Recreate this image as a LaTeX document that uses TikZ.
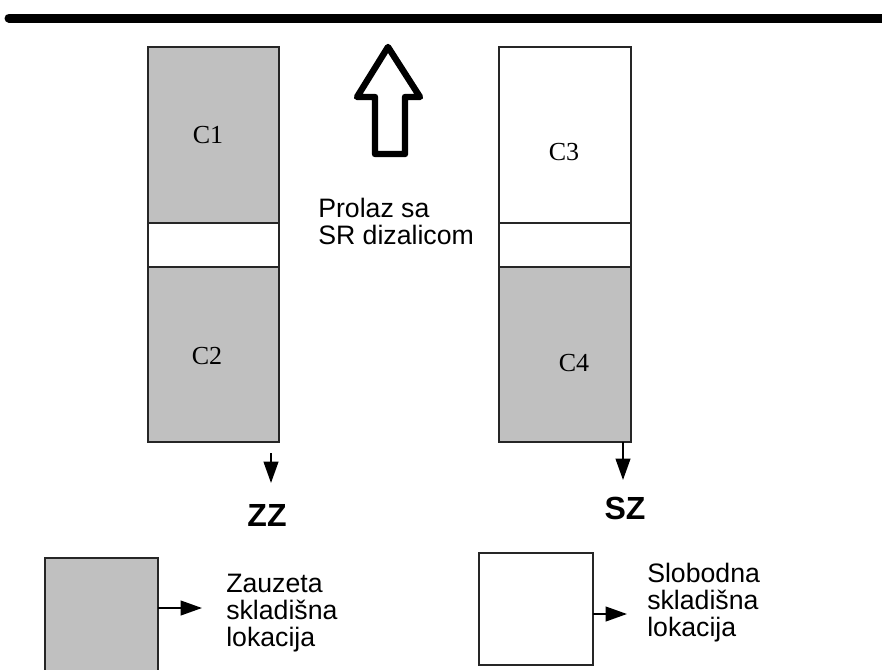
\documentclass[tikz,border=0pt]{standalone}
\usepackage{fontspec}
\setmainfont{Liberation Serif}
\setsansfont{Liberation Sans}
\usepackage{tikz}
\usetikzlibrary{arrows.meta,positioning}
\definecolor{cellgray}{RGB}{192,192,192}
\newlength\pxu
\setlength\pxu{0.75pt}

\begin{document}
\begin{tikzpicture}[
  x=0.75pt, y=-0.75pt,
  cell/.style={draw=black!85, line width=1.1pt, minimum width=131\pxu, inner sep=0pt, outer sep=0pt},
  full/.style={cell, fill=cellgray},
  free/.style={cell, fill=white},
  lbl/.style={font=\fontsize{19.5}{22}\selectfont, inner sep=0pt},
  txt/.style={font=\sffamily\fontsize{20}{20.3}\selectfont, align=left, inner sep=0pt, anchor=north west},
  zone/.style={font=\sffamily\bfseries\fontsize{24}{26}\selectfont, inner sep=0pt},
  flow/.style={-{Triangle[length=16pt, width=11pt]}, line width=1.5pt}
]
\useasboundingbox (0,0) rectangle (882,669);

% --- Rail and crane passage
\coordinate (rail_l) at (9,18);
\coordinate (rail_r) at (900,18);
\draw[line width=6.75pt, line cap=round] (rail_l) -- (rail_r);
\draw[line width=4.8pt, line join=round] (388,47) -- (420,97) -- (405,97) -- (405,154) -- (375,154) -- (375,97) -- (357,97) -- cycle;
\node[txt] (pass) at (318,198) {Prolaz sa\\SR dizalicom};

% --- Left rack
\node[full, minimum height=176\pxu] (c1) at (213.5,135) {};
\node[free, below=0pt of c1, minimum height=44\pxu] (gap_l) {};
\node[full, below=0pt of gap_l, minimum height=175\pxu] (c2) {};
\node[lbl] at (208,135) {C1};
\node[lbl] at (207,356) {C2};

% --- Right rack
\node[free, minimum width=132\pxu, minimum height=176\pxu] (c3) at (565,135) {};
\node[free, below=0pt of c3, minimum width=132\pxu, minimum height=44\pxu] (gap_r) {};
\node[full, below=0pt of gap_r, minimum width=132\pxu, minimum height=175\pxu] (c4) {};
\node[lbl] at (564,152) {C3};
\node[lbl] at (574,363) {C4};

% --- Zones
\node[zone] (zz) at (267,515) {ZZ};
\node[zone] (sz) at (625,508) {SZ};
\coordinate (zz_out) at (271,453);
\coordinate (zz_in) at (271,483);
\coordinate (sz_in) at (623,480);
\draw[flow] (zz_out) -- (zz_in);
\draw[flow] (c4.south -| sz_in) -- (sz_in);

% --- Legend
\node[full, minimum width=113\pxu, minimum height=122\pxu] (key_full) at (101.5,619) {};
\node[free, minimum width=114\pxu, minimum height=112\pxu] (key_free) at (536,609) {};
\node[txt] (key_full_t) at (226,574) {Zauzeta\\skladišna\\lokacija};
\node[txt] (key_free_t) at (647,563) {Slobodna\\skladišna\\lokacija};
\coordinate (key_full_in) at (202,608);
\coordinate (key_free_in) at (627,614);
\draw[flow] (key_full.east |- key_full_in) -- (key_full_in);
\draw[flow] (key_free.east |- key_free_in) -- (key_free_in);
\end{tikzpicture}
\end{document}
